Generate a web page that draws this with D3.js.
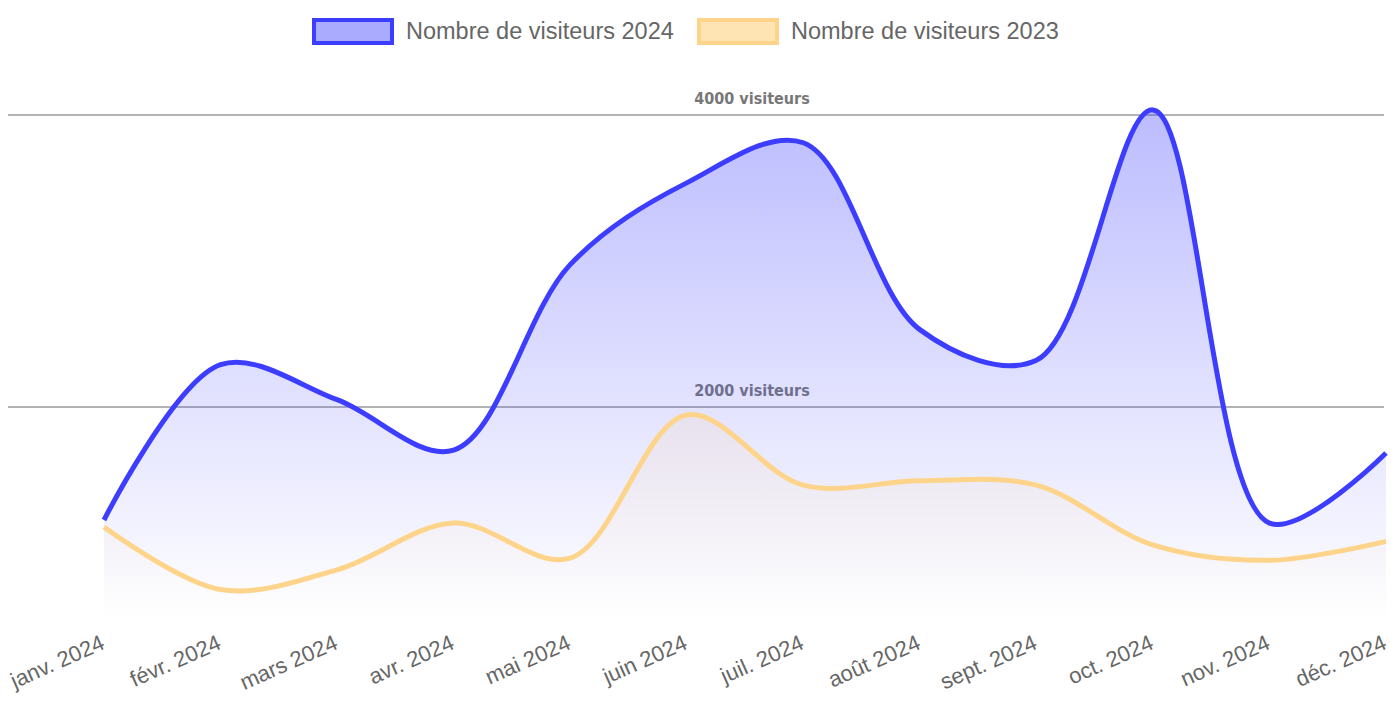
<!DOCTYPE html>
<html><head><meta charset="utf-8">
<script src="https://cdn.jsdelivr.net/npm/d3@7"></script>
<style>body{margin:0;background:#fff;font-family:"Liberation Sans",Arial,sans-serif}</style>
</head><body><div id="chart"></div>
<script>
// Visitor counts per month
var months = ["janv. 2024","févr. 2024","mars 2024","avr. 2024","mai 2024","juin 2024","juil. 2024","août 2024","sept. 2024","oct. 2024","nov. 2024","déc. 2024"];
var visitors2024 = [1226, 2290, 2050, 1705, 2975, 3535, 3810, 2530, 2320, 4035, 1205, 1685];
var visitors2023 = [1178, 750, 885, 1205, 965, 1945, 1465, 1495, 1465, 1055, 950, 1080];
var gridValues = [2000, 4000];
var seriesNames = ["Nombre de visiteurs 2024", "Nombre de visiteurs 2023"];

var W = 1398, H = 720;
var svg = d3.select("#chart").append("svg").attr("width", W).attr("height", H);

var x = d3.scalePoint().domain(months).range([104, 1386]);
var y = d3.scaleLinear().domain([0, 4000]).range([699, 115]);

// Gradients (fixed in page space so the fade matches the chart height)
var defs = svg.append("defs");
function grad(id, color, top, y1, y2) {
    var g = defs.append("linearGradient").attr("id", id).attr("gradientUnits", "userSpaceOnUse")
        .attr("x1", 0).attr("y1", y1).attr("x2", 0).attr("y2", y2);
    g.append("stop").attr("offset", "0%").attr("stop-color", color).attr("stop-opacity", top);
    g.append("stop").attr("offset", "100%").attr("stop-color", color).attr("stop-opacity", 0);
}
grad("g24", "#4040ff", 0.35, 110, 620);
grad("g23", "#fdd48a", 0.15, 410, 620);

// Grid lines with labels
gridValues.forEach(function(v) {
    svg.append("line").attr("x1", 8).attr("x2", 1384).attr("y1", y(v)).attr("y2", y(v))
        .attr("stroke", "#666").attr("stroke-width", 1);
    svg.append("text").attr("x", 752).attr("y", y(v) - 11).attr("text-anchor", "middle")
        .attr("font-size", 16).attr("font-weight", "bold").attr("fill", "#777")
        .attr("font-family", "'DejaVu Sans Condensed','DejaVu Sans'")
        .style("font-stretch", "condensed")
        .text(v + " visiteurs");
});

var curve = d3.curveCatmullRom.alpha(0.5);
var area = d3.area().x(function(d, i) { return x(months[i]); }).y0(699).y1(function(d) { return y(d); }).curve(curve);
var line = d3.line().x(function(d, i) { return x(months[i]); }).y(function(d) { return y(d); }).curve(curve);

svg.append("path").datum(visitors2024).attr("d", area).attr("fill", "url(#g24)");
svg.append("path").datum(visitors2023).attr("d", area).attr("fill", "url(#g23)");
svg.append("path").datum(visitors2023).attr("d", line).attr("fill", "none")
    .attr("stroke", "#fdd48a").attr("stroke-width", 5);
svg.append("path").datum(visitors2024).attr("d", line).attr("fill", "none")
    .attr("stroke", "#3d3dff").attr("stroke-width", 5);

// X axis labels
svg.selectAll(".xl").data(months).enter().append("text")
    .attr("text-anchor", "end")
    .attr("transform", function(d) { return "translate(" + (x(d) + 2) + ",648) rotate(-24)"; })
    .attr("font-size", 22).attr("fill", "#666").text(function(d) { return d; });

// Legend
var legend = [
    {name: seriesNames[0], x: 312, stroke: "#3d3dff", fill: "#aaaaff", tx: 406},
    {name: seriesNames[1], x: 697, stroke: "#fdd48a", fill: "#fee4b3", tx: 791}
];
legend.forEach(function(l) {
    svg.append("rect").attr("x", l.x + 2).attr("y", 20).attr("width", 78).attr("height", 23)
        .attr("fill", l.fill).attr("stroke", l.stroke).attr("stroke-width", 4);
    svg.append("text").attr("x", l.tx).attr("y", 39).attr("font-size", 23.5).attr("fill", "#666").text(l.name);
});
</script></body></html>
